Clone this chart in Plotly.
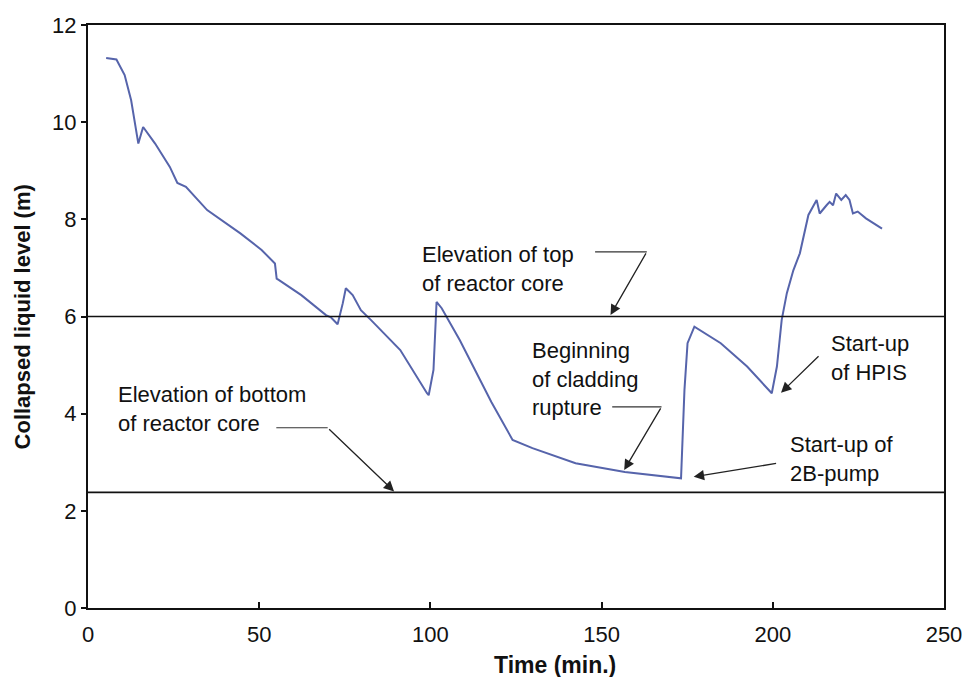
import plotly.graph_objects as go

# ---- data ----
time_min = [5.3, 8.3, 10.7, 12.6, 14.7, 16.1, 19.6, 23.9, 26.1, 28.6, 34.8, 44.5,
            50.7, 54.6, 55.1, 55.8, 62.3, 69.5, 71.0, 72.9, 74.4, 75.3, 77.3, 79.7,
            82.6, 91.2, 99.0, 99.5, 100.9, 101.8, 103.3, 108.6, 117.8, 124.0, 129.8,
            142.4, 156.8, 173.2, 174.2, 175.1, 177.1, 184.8, 192.5, 199.7, 201.2,
            202.6, 204.1, 206.0, 207.9, 208.9, 210.4, 212.8, 213.7, 215.7, 216.6,
            217.6, 218.5, 220.0, 221.3, 222.4, 223.4, 224.8, 227.2, 231.9]
level_m = [11.32, 11.29, 10.97, 10.45, 9.56, 9.90, 9.56, 9.08, 8.75, 8.67, 8.19, 7.71,
           7.37, 7.09, 6.78, 6.75, 6.44, 6.03, 5.98, 5.84, 6.27, 6.58, 6.44, 6.13,
           5.93, 5.31, 4.42, 4.38, 4.90, 6.30, 6.17, 5.51, 4.24, 3.46, 3.29,
           2.98, 2.80, 2.67, 4.49, 5.45, 5.79, 5.45, 4.97, 4.42, 4.97,
           5.93, 6.48, 6.95, 7.30, 7.64, 8.09, 8.40, 8.12, 8.29, 8.36,
           8.29, 8.53, 8.40, 8.50, 8.40, 8.12, 8.16, 8.02, 7.81]

core_top = 6.0
core_bottom = 2.38

x_ticks = [0, 50, 100, 150, 200, 250]
y_ticks = [0, 2, 4, 6, 8, 10, 12]

# annotation labels: (text, x, y of block centre)
labels = [
    ("Elevation of top<br>of reactor core", 96.9, 6.98),
    ("Elevation of bottom<br>of reactor core", 8.3, 4.10),
    ("Beginning<br>of cladding<br>rupture", 129.0, 4.72),
    ("Start-up<br>of HPIS", 216.3, 5.15),
    ("Start-up of<br>2B-pump", 204.3, 3.07),
]
# leader lines (x0, x1, y)
leaders = [(148.1, 163.2, 7.33), (55.0, 70.0, 3.71), (153.1, 167.5, 4.14)]
# arrows (tail x, tail y, tip x, tip y)
arrows = [(163.2, 7.33, 152.6, 6.03), (70.0, 3.71, 89.4, 2.40),
          (167.5, 4.14, 156.6, 2.84), (213.8, 5.21, 202.4, 4.43),
          (201.4, 2.98, 176.9, 2.70)]

FONT = "Liberation Sans, Arial, Helvetica, sans-serif"

fig = go.Figure()
fig.add_trace(go.Scatter(x=time_min, y=level_m, mode="lines",
                         line=dict(color="#5664ab", width=2), showlegend=False))

for lvl in (core_top, core_bottom):
    fig.add_shape(type="line", xref="paper", yref="y", x0=0, x1=1, y0=lvl, y1=lvl,
                  line=dict(color="#111111", width=1.6))

for x0, x1, y in leaders:
    fig.add_shape(type="line", xref="x", yref="y", x0=x0, x1=x1, y0=y, y1=y,
                  line=dict(color="#333333", width=1.2))

annots = []
for txt, x, y in labels:
    annots.append(dict(text=txt, x=x, y=y, xref="x", yref="y", align="left",
                       xanchor="left", yanchor="middle", showarrow=False,
                       font=dict(family=FONT, size=22, color="#111111")))
for tx, ty, hx, hy in arrows:
    annots.append(dict(text="", x=hx, y=hy, ax=tx, ay=ty, xref="x", yref="y",
                       axref="x", ayref="y", showarrow=True, arrowhead=2,
                       arrowsize=1.6, arrowwidth=1.3, arrowcolor="#222222"))

annots.append(dict(text="<b>Time (min.)</b>", x=0.546, y=-0.098, xref="paper", yref="paper",
                   xanchor="center", yanchor="middle", showarrow=False,
                   font=dict(family=FONT, size=23, color="#111111")))
annots.append(dict(text="<b>Collapsed liquid level (m)</b>", x=-0.076, y=0.5,
                   xref="paper", yref="paper", xanchor="center", yanchor="middle",
                   textangle=-90, showarrow=False,
                   font=dict(family=FONT, size=22, color="#111111")))

fig.update_layout(
    width=974, height=677,
    margin=dict(l=88, r=22, t=25, b=69),
    paper_bgcolor="white", plot_bgcolor="white",
    annotations=annots,
    font=dict(family=FONT, size=22, color="#111111"),
)
fig.update_xaxes(range=[0, 250], tickvals=x_ticks, showgrid=False, zeroline=False,
                 showline=True, linecolor="#111111", linewidth=2, mirror=True,
                 ticks="inside", ticklen=6, tickwidth=1.5, tickcolor="#111111",
                 ticklabelstandoff=6, tickfont=dict(size=22))
fig.update_yaxes(range=[0, 12], tickvals=y_ticks, showgrid=False, zeroline=False,
                 showline=True, linecolor="#111111", linewidth=2, mirror=True,
                 ticks="outside", ticklen=5, tickwidth=1.5, tickcolor="#111111",
                 tickfont=dict(size=22))

fig.write_html("out.html")
